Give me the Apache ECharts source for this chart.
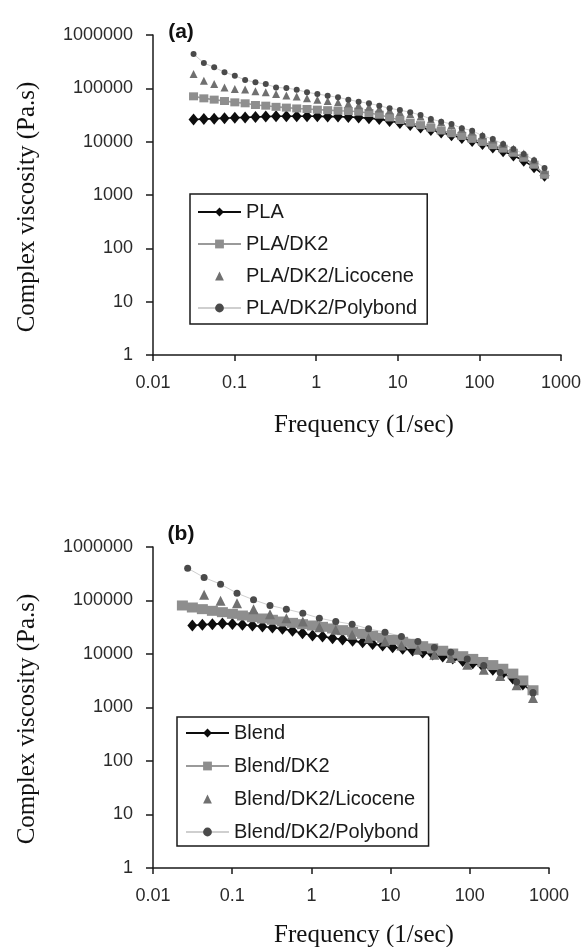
<!DOCTYPE html>
<html><head><meta charset="utf-8">
<script src="https://cdn.jsdelivr.net/npm/echarts@6/dist/echarts.min.js"></script>
<style>html,body{margin:0;padding:0;background:#fff}#c{width:583px;height:947px}</style>
</head><body><div id="c"></div>
<script>
// ---- tick labels ----
const xTickLabels = ['0.01', '0.1', '1', '10', '100', '1000'];
const yTickLabels = ['1', '10', '100', '1000', '10000', '100000', '1000000'];

// ---- chart (a) ----
const namesA = ['PLA', 'PLA/DK2', 'PLA/DK2/Licocene', 'PLA/DK2/Polybond'];
const freqA = [0.0314, 0.0420, 0.0562, 0.0752, 0.1006, 0.1346, 0.1801, 0.241, 0.322, 0.431,
  0.577, 0.772, 1.033, 1.382, 1.850, 2.475, 3.312, 4.431, 5.929, 7.933,
  10.61, 14.20, 19.00, 25.42, 34.02, 45.51, 60.90, 81.48, 109.0, 145.9,
  195.2, 261.2, 349.5, 467.6, 628];
const plaA = [26000, 26500, 27000, 27500, 28000, 28500, 29000, 29500, 30000, 30000,
  30000, 30000, 30000, 29500, 29500, 29000, 28500, 27500, 26500, 24500,
  22500, 20500, 18500, 16500, 14800, 13200, 11700, 10300, 9000, 7800,
  6600, 5500, 4400, 3300, 2300];
const dk2A = [70800, 64900, 61400, 57800, 54600, 52400, 48700, 47300, 45000, 43500,
  42000, 41000, 39800, 39000, 38000, 37500, 36500, 34500, 32000, 28500,
  25500, 22800, 20400, 18200, 16200, 14400, 12800, 11300, 9900, 8600,
  7400, 6200, 5000, 3700, 2400];
const licA = [185000, 139000, 120000, 104000, 97000, 95000, 88000, 84000, 78000, 73000,
  70000, 65000, 61000, 58000, 55000, 52000, 48000, 45000, 42000, 39000,
  36000, 33000, 29500, 26000, 23000, 20500, 17500, 15500, 13000, 11000,
  9000, 7400, 6000, 4500, 2900];
const polyA = [441000, 298000, 248000, 200000, 173000, 143000, 130000, 120000, 104000, 101000,
  94500, 84100, 78300, 72800, 67700, 61300, 56300, 52300, 47300, 42200,
  39200, 35500, 31600, 26600, 23700, 21400, 17800, 16100, 12900, 11200,
  9000, 7300, 5900, 4500, 3200];

// ---- chart (b) ----
const namesB = ['Blend', 'Blend/DK2', 'Blend/DK2/Licocene', 'Blend/DK2/Polybond'];
const freqB = [0.0235, 0.0314, 0.0420, 0.0562, 0.0752, 0.1006, 0.1346, 0.1801, 0.241, 0.322,
  0.431, 0.577, 0.772, 1.033, 1.382, 1.850, 2.475, 3.312, 4.431, 5.929,
  7.933, 10.61, 14.20, 19.00, 25.42, 34.02, 45.51, 60.90, 81.48, 109.0,
  145.9, 195.2, 261.2, 349.5, 467.6, 628];
const blendB = [34100, 35200, 36100, 37000, 36500, 35200, 34100, 32700, 31300, 29500,
  27100, 24500, 22200, 21200, 19800, 18700, 17600, 16500, 15400, 14400,
  13400, 12500, 11600, 10700, 9800, 9000, 8200, 7400, 6700, 5900,
  5100, 4300, 3500, 2700, 1900];
const dk2B = [80700, 74000, 68900, 64100, 60500, 56300, 52400, 48800, 46100, 43600,
  40500, 38200, 36100, 34100, 32200, 30000, 27900, 26000, 23800, 21900,
  20100, 18400, 16900, 15500, 14000, 12700, 11500, 10200, 9100, 8100,
  7100, 6200, 5300, 4300, 3200, 2100];
const freqB2 = [0.0274, 0.0442, 0.0713, 0.115, 0.186, 0.300, 0.483, 0.779, 1.26, 2.03,
  3.27, 5.27, 8.50, 13.7, 22.1, 35.7, 57.5, 92.8, 150, 242, 390, 628];
const licB = [128000, 98600, 89000, 68900, 55500, 46800, 40500, 31700, 28300, 22900,
  19800, 17100, 14400, 12000, 9700, 8400, 6300, 5100, 3900, 2600, 1500];
const polyB = [402000, 269000, 202000, 137000, 103000, 80700, 68900, 57900, 46800, 40500,
  36100, 29500, 25600, 21200, 17100, 13200, 10800, 8100, 6100, 4500, 3000, 1900];

// ---- helpers ----
function pairs(freq, vals, offset) {
  return vals.map(function (v, i) { return [freq[i + offset], v]; });
}
const SANS = '"Liberation Sans", Arial, sans-serif';
const SERIF = '"Liberation Serif", "Times New Roman", serif';

function xAxisFor(gi) {
  return {
    type: 'log', logBase: 10, gridIndex: gi, min: 0.01, max: 1000,
    axisLine: { show: true, lineStyle: { color: '#1a1a1a', width: 1.5 } },
    axisTick: { show: true, length: 6, lineStyle: { color: '#1a1a1a', width: 1.5 } },
    splitLine: { show: false },
    minorTick: { show: false },
    axisLabel: {
      margin: 19, fontFamily: SANS, fontSize: 18, color: '#2a2a2a',
      formatter: function (v) { return xTickLabels[Math.round(Math.log10(v)) + 2]; }
    }
  };
}
function yAxisFor(gi) {
  return {
    type: 'log', logBase: 10, gridIndex: gi, min: 1, max: 1000000,
    axisLine: { show: true, lineStyle: { color: '#1a1a1a', width: 1.5 } },
    axisTick: { show: true, length: 7, lineStyle: { color: '#1a1a1a', width: 1.5 } },
    splitLine: { show: false },
    minorTick: { show: false },
    axisLabel: {
      margin: 20, fontFamily: SANS, fontSize: 18, color: '#2a2a2a',
      formatter: function (v) { return yTickLabels[Math.round(Math.log10(v))]; }
    }
  };
}
function ser(name, gi, data, symbol, size, color, lineColor, lineWidth, lineOpacity) {
  return {
    type: 'line', name: name, xAxisIndex: gi, yAxisIndex: gi, data: data,
    symbol: symbol, symbolSize: size, showSymbol: true,
    itemStyle: { color: color },
    lineStyle: { color: lineColor, width: lineWidth, opacity: lineOpacity },
    emphasis: { disabled: true }, animation: false
  };
}
function legendFor(names, left, top, gap, padding) {
  return {
    orient: 'vertical', left: left, top: top, itemWidth: 43, itemHeight: 11, itemGap: gap,
    padding: padding, borderColor: '#1a1a1a', borderWidth: 1.5, backgroundColor: '#fff',
    selectedMode: false,
    textStyle: { fontFamily: SANS, fontSize: 20, color: '#1a1a1a', lineHeight: 20 },
    data: [
      { name: names[0] },
      { name: names[1] },
      { name: names[2], lineStyle: { opacity: 0 } },
      { name: names[3] }
    ]
  };
}

const chart = echarts.init(document.getElementById('c'), null, { renderer: 'canvas' });
chart.setOption({
  backgroundColor: '#ffffff',
  animation: false,
  grid: [
    { left: 153, top: 35, width: 408, height: 320, outerBoundsMode: 'none', containLabel: false },
    { left: 153, top: 547, width: 396, height: 321, outerBoundsMode: 'none', containLabel: false }
  ],
  xAxis: [xAxisFor(0), xAxisFor(1)],
  yAxis: [yAxisFor(0), yAxisFor(1)],
  legend: [
    legendFor(namesA, 190, 194, 12, [8, 10, 6, 7]),
    legendFor(namesB, 177, 717, 13, [6, 10, 4, 8])
  ],
  series: [
    ser(namesA[0], 0, pairs(freqA, plaA, 0), 'diamond', [10, 12], '#0d0d0d', '#0d0d0d', 1.6, 1),
    ser(namesA[1], 0, pairs(freqA, dk2A, 0), 'rect', [9, 8], '#8e8e8e', '#9a9a9a', 1.6, 1),
    ser(namesA[2], 0, pairs(freqA, licA, 0), 'triangle', 8, '#707070', '#d0d0d0', 1, 0),
    ser(namesA[3], 0, pairs(freqA, polyA, 0), 'circle', 6, '#4a4a4a', '#cfcfcf', 1, 1),
    ser(namesB[0], 1, pairs(freqB, blendB, 1), 'diamond', [10, 12], '#0d0d0d', '#0d0d0d', 1.6, 1),
    ser(namesB[1], 1, pairs(freqB, dk2B, 0), 'rect', [11, 10], '#8e8e8e', '#9a9a9a', 1.6, 1),
    ser(namesB[2], 1, pairs(freqB2, licB, 1), 'triangle', 10, '#707070', '#d0d0d0', 1, 0),
    ser(namesB[3], 1, pairs(freqB2, polyB, 0), 'circle', 7, '#4a4a4a', '#cfcfcf', 1, 1)
  ],
  graphic: [
    { type: 'text', x: 27, y: 207, rotation: Math.PI / 2,
      style: { text: 'Complex viscosity (Pa.s)', font: '25px ' + SERIF, fill: '#111', textAlign: 'center', textVerticalAlign: 'middle' } },
    { type: 'text', x: 27, y: 719, rotation: Math.PI / 2,
      style: { text: 'Complex viscosity (Pa.s)', font: '25px ' + SERIF, fill: '#111', textAlign: 'center', textVerticalAlign: 'middle' } },
    { type: 'text', x: 364, y: 425,
      style: { text: 'Frequency (1/sec)', font: '25px ' + SERIF, fill: '#111', textAlign: 'center', textVerticalAlign: 'middle' } },
    { type: 'text', x: 364, y: 935,
      style: { text: 'Frequency (1/sec)', font: '25px ' + SERIF, fill: '#111', textAlign: 'center', textVerticalAlign: 'middle' } },
    { type: 'text', x: 181, y: 32,
      style: { text: '(a)', font: 'bold 21px ' + SANS, fill: '#111', textAlign: 'center', textVerticalAlign: 'middle' } },
    { type: 'text', x: 181, y: 534,
      style: { text: '(b)', font: 'bold 21px ' + SANS, fill: '#111', textAlign: 'center', textVerticalAlign: 'middle' } }
  ]
});
</script>
</body></html>
